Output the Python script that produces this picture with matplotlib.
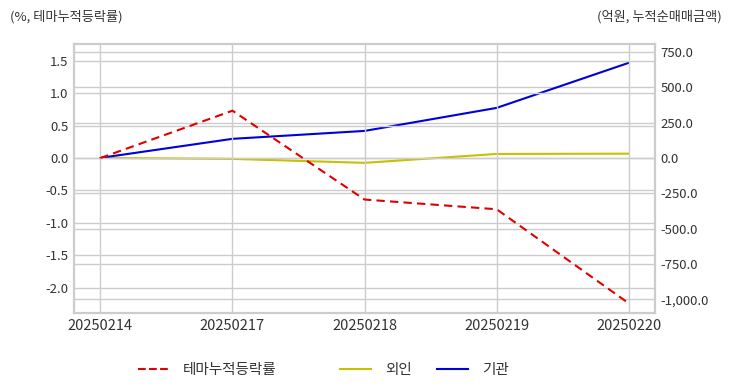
import matplotlib

matplotlib.use("Agg")
import matplotlib.pyplot as plt  # noqa: E402
from matplotlib.lines import Line2D  # noqa: E402
from matplotlib.ticker import FuncFormatter  # noqa: E402

plt.rcParams["font.family"] = ["Noto Sans CJK KR", "DejaVu Sans"]

dates = ["20250214", "20250217", "20250218", "20250219", "20250220"]
theme = [0.0, 0.73, -0.64, -0.79, -2.24]
foreign = [0.0, -7.0, -35.0, 28.0, 30.0]
inst = [0.0, 135.0, 191.0, 354.0, 673.0]

GRID = "#cccccc"
TXT = "#333333"

fig = plt.figure(figsize=(7.32, 3.92), dpi=100)
ax = fig.add_axes([0.101, 0.2015, 0.794, 0.6865])
ax2 = ax.twinx()

x = range(len(dates))
l1, = ax.plot(x, theme, color="#e00000", linestyle=(0, (4, 2.5)), linewidth=1.5, label="테마누적등락률")
l2, = ax2.plot(x, foreign, color="#c8c000", linewidth=1.5, label="외인")
l3, = ax2.plot(x, inst, color="#0000dd", linewidth=1.5, label="기관")

ax.set_xlim(-0.2, 4.2)
ax.set_ylim(-2.39, 1.76)
ax2.set_ylim(-1098, 807)
ax.set_xticks(list(x))
ax.set_xticklabels(dates)
ax.set_yticks([1.5, 1.0, 0.5, 0.0, -0.5, -1.0, -1.5, -2.0])
ax.yaxis.set_major_formatter(FuncFormatter(lambda v, p: f"{v:.1f}"))
ax2.set_yticks([750, 500, 250, 0, -250, -500, -750, -1000])
ax2.yaxis.set_major_formatter(FuncFormatter(lambda v, p: f"{v:,.1f}"))

for a in (ax, ax2):
    a.grid(True, color=GRID, linewidth=1)
    a.set_axisbelow(True)
    a.tick_params(length=0, labelsize=9.5, colors=TXT, pad=4)
    for s in a.spines.values():
        s.set_color(GRID)
        s.set_linewidth(1.5)
ax.tick_params(axis="x", labelsize=10.5)
ax2.grid(axis="x", visible=False)
ax.set_zorder(ax2.get_zorder() + 1)
ax.patch.set_visible(False)

fig.text(0.014, 0.958, "(%, 테마누적등락률)", ha="left", va="center", fontsize=9.5, color=TXT)
fig.text(0.986, 0.958, "(억원, 누적순매매금액)", ha="right", va="center", fontsize=9.5, color=TXT)

# 범례: 항목별 위치가 고르지 않아 따로 배치
for line, x0 in ((l1, 138), (l2, 340), (l3, 437)):
    h = Line2D([], [], color=line.get_color(), linestyle=line.get_linestyle(),
               linewidth=1.5)
    fig.legend(handles=[h], labels=[line.get_label()], loc="center left",
               bbox_to_anchor=(x0 / 732, 1 - 370 / 392), frameon=False,
               fontsize=10.5, handlelength=2.1, handletextpad=1.0,
               borderpad=0, borderaxespad=0, labelcolor=TXT)

fig.savefig("out.png", dpi=100, facecolor="white")
